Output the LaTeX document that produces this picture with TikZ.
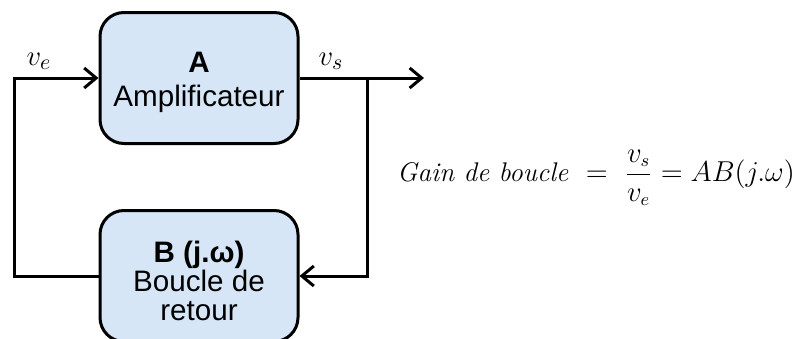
\documentclass[tikz,border=0pt]{standalone}
\usepackage{amsmath,amssymb}
\usepackage{fontspec}
\setsansfont{Liberation Sans}
\usepackage{tikz}
\usetikzlibrary{arrows.meta, positioning, calc}
\definecolor{boxblue}{RGB}{214,230,247}

\begin{document}
\begin{tikzpicture}[
  node distance=32pt,
  block/.style={rectangle, draw=black, line width=1.5pt, fill=boxblue, rounded corners=12pt,
                minimum width=99pt, minimum height=65.5pt, align=center,
                font=\sffamily\fontsize{14.8}{16.5}\selectfont},
  arrow/.style={-{Straight Barb[length=6pt, width=10pt, line width=1.5pt]}, line width=1.5pt},
  sig/.style={font=\fontsize{15}{17}\selectfont}
]
\useasboundingbox (0,0) rectangle (397pt,-169pt);

\node[block] (amp) at (99.5pt,-39pt) {\textbf{A}\rule{0pt}{14.6pt}\\[0.5pt]Amplificateur};
\node[block, below=of amp] (ret) {\textbf{B (j.ω)}\rule{0pt}{15.6pt}\\[-2pt]Boucle de\\[-2pt]retour};

\coordinate (left) at (7pt,0);
\coordinate (tap) at (183.5pt,0);
\coordinate (out) at (212pt,0);

\draw[arrow] (ret.west) -- (ret.west -| left) -- (amp.west -| left) -- (amp.west);
\draw[arrow] (amp.east) -- (amp.east -| out);
\draw[arrow] (amp.east -| tap) -- (ret.east -| tap) -- (ret.east);

\node[sig] (ve) at (19.5pt,-30.5pt) {$v_e$};
\node[sig] (vs) at (165.5pt,-30.5pt) {$v_s$};

\node[font=\fontsize{13.5}{16}\selectfont] (gain) at (298pt,-89pt)
  {\textit{Gain de boucle}\ \ $=\ \dfrac{v_s}{v_e}=AB(j.\omega)$};
\end{tikzpicture}
\end{document}
